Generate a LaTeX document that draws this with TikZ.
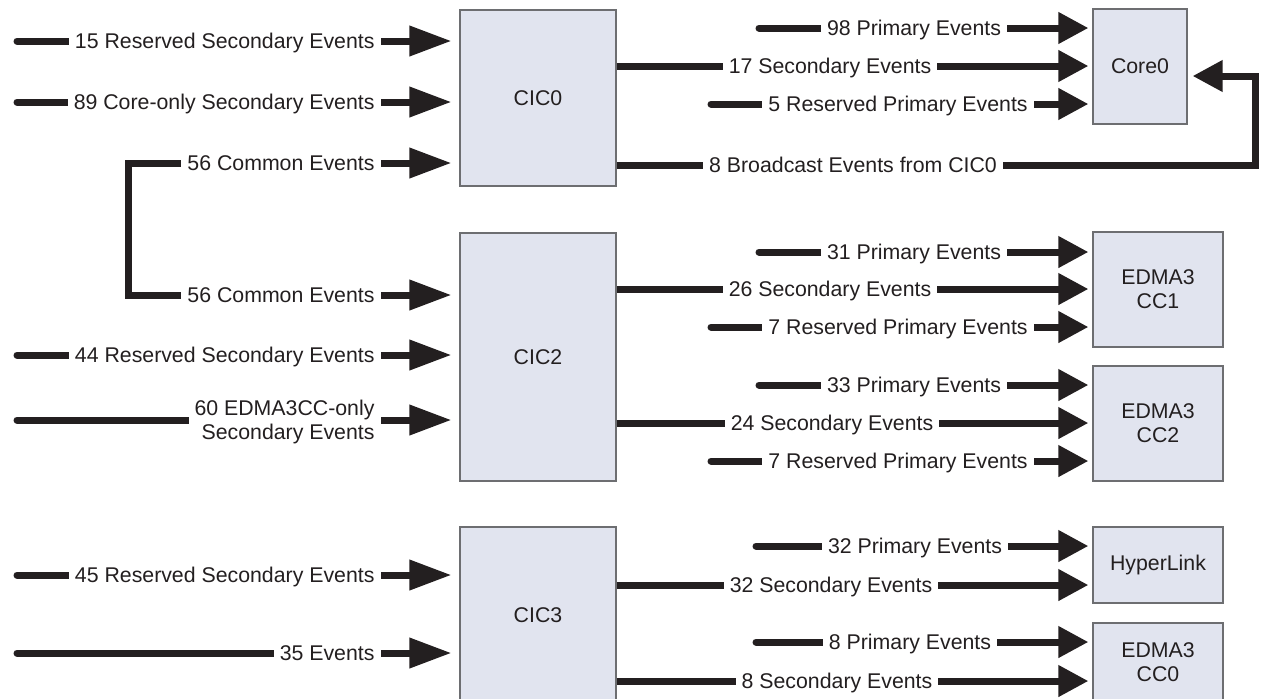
\documentclass[tikz,border=0pt]{standalone}
\usepackage{fontspec}
\setmainfont{Liberation Sans}
\usepackage{tikz}
\usetikzlibrary{arrows.meta}
\definecolor{boxfill}{RGB}{225,228,239}
\definecolor{boxline}{RGB}{109,110,113}
\definecolor{ink}{RGB}{35,31,32}

\tikzset{
  blk/.style={draw=boxline,fill=boxfill,line width=0.6pt,inner sep=0pt,align=center,text=ink},
  flow/.style={draw=ink,line width=3.5pt},
  inarr/.style={flow,-{Triangle[length=21pt,width=14.5pt]},shorten >=4pt},
  outarr/.style={flow,-{Triangle[length=15pt,width=15pt]},shorten >=2pt},
  lbl/.style={fill=white,inner xsep=3pt,inner ysep=1pt,text=ink,text height=7.6pt,text depth=0pt},
  lbltwo/.style={fill=white,inner xsep=3pt,inner ysep=1pt,text=ink,align=right,yshift=-1.1pt}
}

\begin{document}
\begin{tikzpicture}[x=0.5pt,y=-0.5pt,font=\fontsize{10.65}{12}\selectfont]
\useasboundingbox (0,0) rectangle (1262,698);

% blocks
\node[blk,minimum width=78pt,minimum height=88pt] (cic0) at (538,98) {CIC0};
\node[blk,minimum width=78pt,minimum height=124pt] (cic2) at (538,357) {CIC2};
\node[blk,minimum width=78pt,minimum height=88pt] (cic3) at (538,615) {CIC3};
\node[blk,minimum width=47pt,minimum height=57.5pt] (core0) at (1140,66.5) {Core0};
\node[blk,minimum width=65pt,minimum height=57.5pt] (cc1) at (1158,289.5) {EDMA3\\CC1};
\node[blk,minimum width=65pt,minimum height=57.5pt] (cc2) at (1158,423.5) {EDMA3\\CC2};
\node[blk,minimum width=65pt,minimum height=38pt] (hlink) at (1158,565) {HyperLink};
\node[blk,minimum width=65pt,minimum height=39pt] (cc0) at (1158,662) {EDMA3\\CC0};

% free ends and bends
\coordinate (s15) at (17,41);
\coordinate (s89) at (17,102);
\coordinate (s44) at (17,355);
\coordinate (s60) at (17,420);
\coordinate (s45) at (17,575);
\coordinate (s35) at (17,653);
\coordinate (cmA) at (128,163);
\coordinate (cmB) at (128,295);
\coordinate (p98) at (759,28);
\coordinate (r5) at (711,104);
\coordinate (bcA) at (1255,165);
\coordinate (bcB) at (1255,76);
\coordinate (p31) at (759,252);
\coordinate (r7a) at (711,327);
\coordinate (p33) at (759,385);
\coordinate (r7b) at (711,461);
\coordinate (p32) at (756,546);
\coordinate (p8) at (756,642);

% into CIC0
\draw[inarr,line cap=round] (s15) -- (cic0.west |- s15)
  node[lbl,anchor=east] (t15) at (384,41) {15 Reserved Secondary Events};
\draw[inarr,line cap=round] (s89) -- (cic0.west |- s89)
  node[lbl,anchor=east] (t89) at (384,102) {89 Core-only Secondary Events};
\draw[inarr,{Triangle[length=21pt,width=14.5pt]}-{Triangle[length=21pt,width=14.5pt]},shorten <=4pt]
  (cic0.west |- cmA) -- (cmA) -- (cmB) -- (cic2.west |- cmB)
  node[lbl,anchor=east] (tcm0) at (384,163) {56 Common Events}
  node[lbl,anchor=east] (tcm2) at (384,295) {56 Common Events};

% into CIC2
\draw[inarr,line cap=round] (s44) -- (cic2.west |- s44)
  node[lbl,anchor=east] (t44) at (384,355) {44 Reserved Secondary Events};
\draw[inarr,line cap=round] (s60) -- (cic2.west |- s60)
  node[lbltwo,anchor=east] (t60) at (384,420) {60 EDMA3CC-only\\Secondary Events};

% into CIC3
\draw[inarr,line cap=round] (s45) -- (cic3.west |- s45)
  node[lbl,anchor=east] (t45) at (384,575) {45 Reserved Secondary Events};
\draw[inarr,line cap=round] (s35) -- (cic3.west |- s35)
  node[lbl,anchor=east] (t35) at (384,653) {35 Events};

% into Core0
\draw[outarr,line cap=round] (p98) -- (core0.west |- p98)
  node[lbl] (t98) at (914,28) {98 Primary Events};
\draw[outarr] (cic0.east |- 0,66) -- (core0.west |- 0,66)
  node[lbl] (t17) at (830,66) {17 Secondary Events};
\draw[outarr,line cap=round] (r5) -- (core0.west |- r5)
  node[lbl] (t5) at (898,104) {5 Reserved Primary Events};
\draw[outarr,shorten >=2.5pt] (cic0.east |- bcA) -- (bcA) -- (bcB) -- (core0.east |- bcB)
  node[lbl] (tbc) at (853,165) {8 Broadcast Events from CIC0};

% into EDMA3 CC1 / CC2
\draw[outarr,line cap=round] (p31) -- (cc1.west |- p31)
  node[lbl] (t31) at (914,252) {31 Primary Events};
\draw[outarr] (cic2.east |- 0,289) -- (cc1.west |- 0,289)
  node[lbl] (t26) at (830,289) {26 Secondary Events};
\draw[outarr,line cap=round] (r7a) -- (cc1.west |- r7a)
  node[lbl] (t7a) at (898,327) {7 Reserved Primary Events};
\draw[outarr,line cap=round] (p33) -- (cc2.west |- p33)
  node[lbl] (t33) at (914,385) {33 Primary Events};
\draw[outarr] (cic2.east |- 0,423) -- (cc2.west |- 0,423)
  node[lbl] (t24) at (832,423) {24 Secondary Events};
\draw[outarr,line cap=round] (r7b) -- (cc2.west |- r7b)
  node[lbl] (t7b) at (898,461) {7 Reserved Primary Events};

% into HyperLink / EDMA3 CC0
\draw[outarr,line cap=round] (p32) -- (hlink.west |- p32)
  node[lbl] (t32p) at (915,546) {32 Primary Events};
\draw[outarr] (cic3.east |- 0,585) -- (hlink.west |- 0,585)
  node[lbl] (t32s) at (831,585) {32 Secondary Events};
\draw[outarr,line cap=round] (p8) -- (cc0.west |- p8)
  node[lbl] (t8p) at (910,642) {8 Primary Events};
\draw[outarr] (cic3.east |- 0,681) -- (cc0.west |- 0,681)
  node[lbl] (t8s) at (837,681) {8 Secondary Events};
\end{tikzpicture}
\end{document}
